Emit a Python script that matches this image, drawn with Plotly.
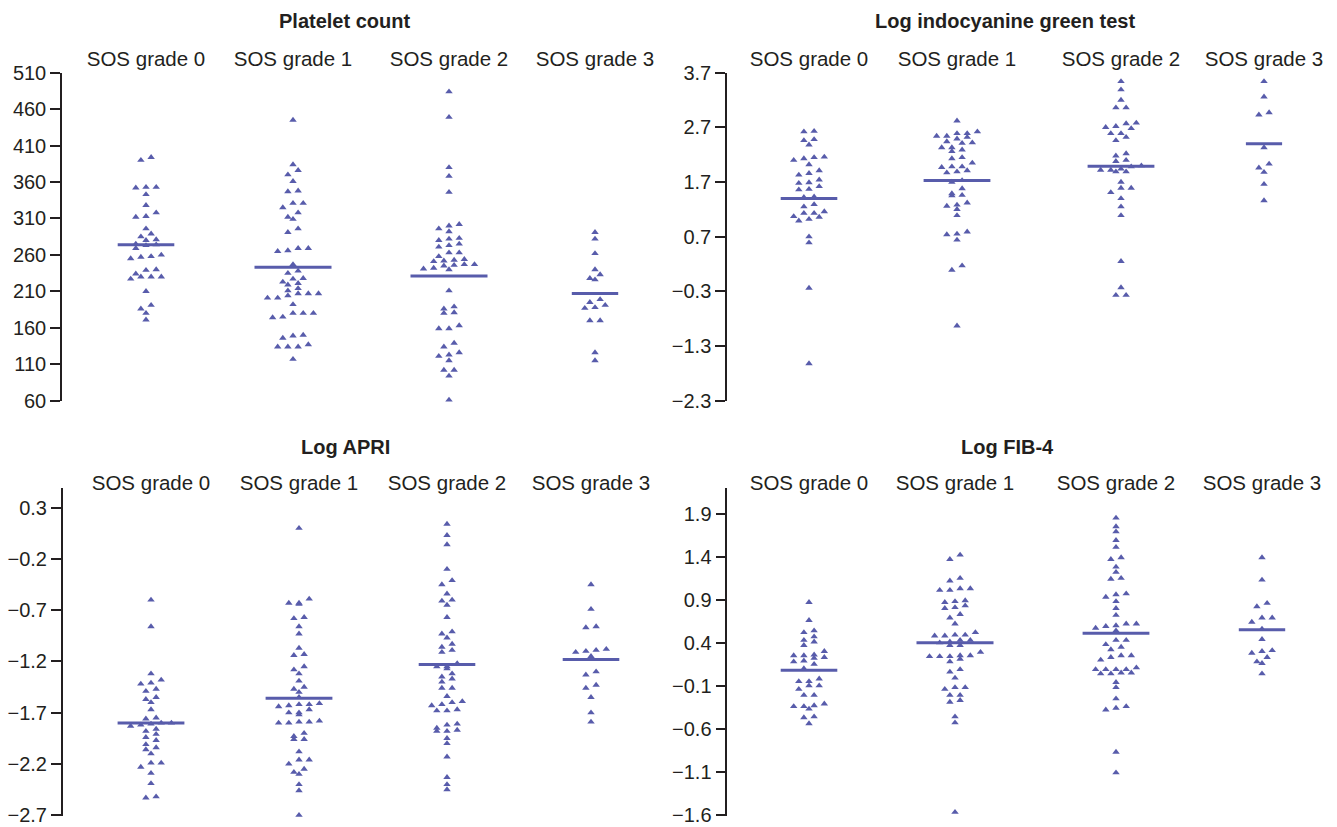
import numpy as np
import plotly.graph_objects as go

W, H = 1337, 827
GROUPS = ["SOS grade 0", "SOS grade 1", "SOS grade 2", "SOS grade 3"]
TITLES = ["Platelet count", "Log indocyanine green test", "Log APRI", "Log FIB-4"]

# ---------------- data ----------------
platelet_g0 = [390, 394, 352, 353, 353, 343, 328, 312, 313, 318, 296, 289, 280, 281, 285,
               273, 274, 275, 269, 255, 258, 257, 260, 239, 240, 227, 230, 230, 230, 234,
               210, 191, 186, 180, 171]
platelet_g1 = [445, 384, 376, 370, 361, 347, 348, 325, 331, 331, 309, 312, 318, 291, 296,
               265, 266, 269, 269, 247, 235, 238, 221, 223, 227, 228, 219, 211, 214, 201,
               201, 204, 207, 207, 207, 192, 174, 175, 180, 180, 180, 146, 149, 150, 134,
               134, 134, 137, 117]
platelet_g2 = [484, 449, 380, 368, 346, 300, 302, 296, 292, 280, 282, 283, 271, 273, 275,
               263, 263, 258, 251, 252, 253, 254, 240, 242, 241, 245, 246, 247, 247, 211,
               189, 180, 181, 186, 159, 159, 163, 139, 134, 126, 121, 123, 115, 102, 102,
               94, 61]
platelet_g3 = [291, 282, 262, 240, 226, 228, 233, 199, 187, 188, 191, 195, 170, 170, 126, 115]
platelet_line = [274, 243, 231, 207]

icg_g0 = [2.62, 2.63, 2.38, 2.46, 2.48, 2.13, 2.15, 2.10, 2.16, 2.02, 1.83, 1.86, 1.91, 1.68,
          1.69, 1.74, 1.56, 1.57, 1.62, 1.42, 1.43, 1.25, 1.29, 1.13, 1.13, 1.16, 0.99, 1.02,
          1.07, 1.06, 0.70, 0.59, -0.24, -1.62]
icg_g1 = [2.82, 2.54, 2.54, 2.59, 2.59, 2.62, 2.41, 2.42, 2.44, 2.49, 2.52, 2.26, 2.29, 2.33,
          2.33, 2.15, 2.13, 2.05, 1.87, 1.89, 1.91, 1.97, 1.98, 1.98, 1.70, 1.73, 1.58, 1.45,
          1.46, 1.49, 1.26, 1.28, 1.32, 1.20, 1.09, 0.79, 0.74, 0.75, 0.64, 0.09, 0.17, -0.93]
icg_g2 = [3.54, 3.39, 3.20, 3.06, 3.06, 2.68, 2.70, 2.72, 2.77, 2.78, 2.46, 2.52, 2.59, 2.59,
          2.22, 2.18, 2.08, 2.10, 1.89, 1.89, 1.92, 1.92, 1.94, 1.98, 2.00, 1.70, 1.59, 1.59,
          1.51, 1.40, 1.25, 1.09, 0.25, -0.23, -0.37, -0.37]
icg_g3 = [3.54, 3.26, 2.93, 2.97, 2.33, 2.03, 1.96, 1.88, 1.66, 1.36]
icg_line = [1.40, 1.73, 1.99, 2.40]

apri_g0 = [-0.60, -0.86, -1.32, -1.38, -1.42, -1.41, -1.47, -1.49, -1.57, -1.55, -1.60, -1.67,
           -1.76, -1.75, -1.82, -1.81, -1.80, -1.80, -1.83, -1.91, -1.88, -1.86, -2.01, -1.97,
           -1.94, -2.10, -2.06, -2.04, -2.19, -2.19, -2.23, -2.29, -2.39, -2.53, -2.52]
apri_g1 = [0.10, -0.64, -0.63, -0.63, -0.59, -0.78, -0.77, -0.86, -0.93, -1.07, -1.14, -1.13,
           -1.28, -1.25, -1.32, -1.39, -1.50, -1.47, -1.45, -1.55, -1.62, -1.61, -1.64, -1.63,
           -1.62, -1.70, -1.70, -1.67, -1.72, -1.80, -1.80, -1.79, -1.79, -1.78, -1.90, -1.96,
           -1.96, -1.93, -2.08, -2.20, -2.16, -2.16, -2.30, -2.28, -2.25, -2.40, -2.46, -2.70]
apri_g2 = [0.14, 0.03, -0.06, -0.30, -0.41, -0.45, -0.54, -0.65, -0.61, -0.60, -0.77, -0.97,
           -0.93, -0.91, -1.11, -1.09, -1.06, -1.03, -1.27, -1.25, -1.25, -1.22, -1.37, -1.35,
           -1.32, -1.40, -1.46, -1.46, -1.54, -1.60, -1.59, -1.63, -1.62, -1.68, -1.68, -1.67,
           -1.88, -1.88, -1.87, -1.85, -1.82, -1.81, -2.00, -1.95, -2.13, -2.33, -2.45, -2.40]
apri_g3 = [-0.45, -0.69, -0.87, -0.86, -1.15, -1.11, -1.10, -1.09, -1.08, -1.33, -1.30, -1.46,
           -1.43, -1.55, -1.70, -1.79]
apri_line = [-1.80, -1.56, -1.23, -1.18]

fib4_g0 = [0.87, 0.66, 0.54, 0.52, 0.47, 0.43, 0.41, 0.37, 0.26, 0.25, 0.30, 0.25, 0.18, 0.19,
           0.22, 0.23, 0.15, 0.10, -0.02, -0.05, -0.05, -0.10, -0.10, -0.14, -0.21, -0.21,
           -0.34, -0.31, -0.34, -0.37, -0.33, -0.47, -0.46, -0.54]
fib4_g1 = [1.42, 1.37, 1.15, 1.12, 1.01, 1.01, 1.03, 1.03, 0.88, 0.89, 0.87, 0.80, 0.81, 0.83,
           0.73, 0.69, 0.62, 0.48, 0.48, 0.49, 0.49, 0.52, 0.37, 0.37, 0.40, 0.41, 0.43, 0.43,
           0.18, 0.21, 0.24, 0.29, 0.25, 0.25, 0.24, 0.24, 0.09, 0.06, -0.01, -0.12, -0.12,
           -0.14, -0.21, -0.21, -0.29, -0.27, -0.46, -0.53, -1.57]
fib4_g2 = [1.85, 1.75, 1.69, 1.59, 1.51, 1.37, 1.39, 1.28, 1.22, 1.14, 1.15, 0.93, 0.96, 0.97,
           0.88, 0.80, 0.72, 0.60, 0.62, 0.62, 0.54, 0.57, 0.59, 0.38, 0.43, 0.43, 0.32, 0.35,
           0.20, 0.23, 0.25, 0.25, 0.04, 0.04, 0.05, 0.05, 0.11, 0.09, 0.09, 0.09, 0.09, -0.12,
           -0.06, -0.25, -0.38, -0.36, -0.34, -0.87, -1.11]
fib4_g3 = [1.39, 1.13, 0.86, 0.82, 0.69, 0.69, 0.64, 0.56, 0.44, 0.31, 0.30, 0.28, 0.23, 0.18,
           0.16, 0.04]
fib4_line = [0.08, 0.40, 0.51, 0.55]

platelet_ticks = [60, 110, 160, 210, 260, 310, 360, 410, 460, 510]
icg_ticks = [-2.3, -1.3, -0.3, 0.7, 1.7, 2.7, 3.7]
apri_ticks = [-2.7, -2.2, -1.7, -1.2, -0.7, -0.2, 0.3]
fib4_ticks = [-1.6, -1.1, -0.6, -0.1, 0.4, 0.9, 1.4, 1.9]

SERIES = [
    ([platelet_g0, platelet_g1, platelet_g2, platelet_g3], platelet_line, platelet_ticks, "d"),
    ([icg_g0, icg_g1, icg_g2, icg_g3], icg_line, icg_ticks, ".1f"),
    ([apri_g0, apri_g1, apri_g2, apri_g3], apri_line, apri_ticks, ".1f"),
    ([fib4_g0, fib4_g1, fib4_g2, fib4_g3], fib4_line, fib4_ticks, ".1f"),
]

# ---------------- layout (pixel geometry) ----------------
PANELS = [
    dict(x=(62, 662), y=(72.7, 400.7), yr=(60, 510), centers=(146, 293, 449, 595), title=(344, 21), lab=70),
    dict(x=(727, 1330), y=(72.7, 400.7), yr=(-2.3, 3.7), centers=(809, 957, 1121, 1264), title=(1005, 21), lab=70),
    dict(x=(62.7, 662), y=(488, 815.5), yr=(-2.703, 0.492), centers=(151, 299, 447, 591), title=(345, 447), lab=494),
    dict(x=(727.3, 1330), y=(488, 815.5), yr=(-1.608, 2.198), centers=(809, 955, 1116, 1262), title=(1007, 447), lab=494),
]
COLOR = "#585cab"
TEXT = "#231f20"
FONT = "Liberation Sans, Arial, Helvetica, sans-serif"
SPACING = 10.2
BIN_PX = 5.0


def swarm_offsets(vals, ppu):
    vals = np.asarray(vals, float)
    order = np.argsort(-vals, kind="stable")
    bins = []
    for i in order:
        if bins and (vals[bins[-1][0]] - vals[i]) * ppu < BIN_PX:
            bins[-1].append(i)
        else:
            bins.append([i])
    off = np.zeros(len(vals))
    for b in bins:
        bs = sorted(b, key=lambda i: vals[i])
        m = len(bs)
        for k, i in enumerate(bs):
            off[i] = (k - (m - 1) / 2) * SPACING
    return off


fig = go.Figure()
annotations = []
for p, (groups, lines, ticks, fmt) in enumerate(SERIES):
    P = PANELS[p]
    sfx = "" if p == 0 else str(p + 1)
    ppu = (P["y"][1] - P["y"][0]) / (P["yr"][1] - P["yr"][0])
    for g, vals in enumerate(groups):
        c = P["centers"][g]
        off = swarm_offsets(vals, ppu)
        fig.add_trace(go.Scatter(
            x=c + off, y=vals, mode="markers", xaxis="x" + sfx, yaxis="y" + sfx,
            marker=dict(symbol="triangle-up", size=6.5, color=COLOR, line=dict(width=0)),
            showlegend=False, hoverinfo="y", cliponaxis=False))
        hw = np.max(np.abs(off)) + 13
        fig.add_trace(go.Scatter(
            x=[c - hw, c + hw], y=[lines[g], lines[g]], mode="lines",
            xaxis="x" + sfx, yaxis="y" + sfx,
            line=dict(color=COLOR, width=3), showlegend=False, hoverinfo="skip"))

    xd = [P["x"][0] / W, P["x"][1] / W]
    yd = [1 - P["y"][1] / H, 1 - P["y"][0] / H]
    fig.layout["xaxis" + sfx] = dict(
        domain=xd, range=list(P["x"]), anchor="free", position=1 - P["lab"] / H,
        side="top", showline=False, showgrid=False, zeroline=False, ticks="",
        automargin=False, fixedrange=True, ticklabeloverflow="allow",
        tickvals=list(P["centers"]), ticktext=GROUPS,
        tickfont=dict(family=FONT, size=20.5, color=TEXT))
    fig.layout["yaxis" + sfx] = dict(
        domain=yd, range=list(P["yr"]), anchor="x" + sfx, automargin=False,
        showline=True, linecolor=TEXT, linewidth=1.5, showgrid=False, zeroline=False,
        ticks="outside", ticklen=10, tickwidth=1.5, tickcolor=TEXT,
        ticklabeloverflow="allow",
        tickvals=ticks, tickformat=fmt,
        tickfont=dict(family=FONT, size=20, color=TEXT))
    annotations.append(dict(
        text="<b>" + TITLES[p] + "</b>", x=P["title"][0] / W, y=1 - P["title"][1] / H,
        xref="paper", yref="paper", xanchor="center", yanchor="middle", showarrow=False,
        font=dict(family=FONT, size=20, color=TEXT)))

fig.update_layout(
    width=W, height=H, autosize=False, margin=dict(l=0, r=0, t=0, b=0, pad=0),
    paper_bgcolor="white", plot_bgcolor="white",
    annotations=annotations, font=dict(family=FONT, color=TEXT))

fig.write_html("out.html", config={"displayModeBar": False},
               post_script="document.body.style.margin='0';document.body.style.overflow='hidden';")
